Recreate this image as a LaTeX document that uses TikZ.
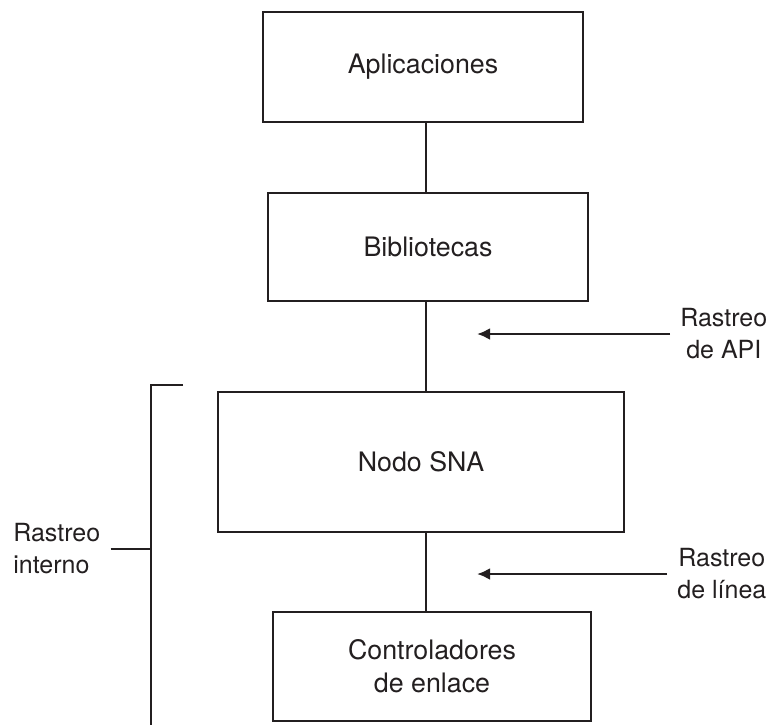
\documentclass[tikz,border=0pt]{standalone}
\usepackage{fontspec}
\setmainfont{TeX Gyre Heros}
\usepackage{tikz}
\usetikzlibrary{positioning,arrows.meta}

\definecolor{ink}{RGB}{35,31,32}

\begin{document}
\begin{tikzpicture}[
	x=0.5pt, y=-0.5pt,
	layer/.style={rectangle, draw=ink, line width=1.4pt, inner sep=0pt,
		text centered, text=ink, align=center,
		font=\fontsize{13.4}{16.5}\selectfont},
	note/.style={inner xsep=5pt, inner ysep=0pt, text=ink,
		font=\fontsize{12.5}{16}\selectfont},
	link/.style={draw=ink, line width=1.4pt},
	trace/.style={draw=ink, line width=1.4pt, -{Latex[length=6.5pt,width=6pt]}}
	]
	\useasboundingbox (0,0) rectangle (772,725);

	% protocol layers
	\node (apl) [layer, minimum width=160pt, minimum height=55pt] at (423,67) {Aplicaciones};
	\node (bib) [layer, minimum width=160pt, minimum height=54pt] at (428,247) {Bibliotecas};
	\node (sna) [layer, minimum width=203pt, minimum height=70pt] at (421,462) {Nodo SNA};
	\node (ctl) [layer, minimum width=159pt, minimum height=54.5pt] at (432,666.5) {Controladores\\de enlace};

	\coordinate (axis) at (426,0);
	\draw[link] (apl.south -| axis) -- (bib.north -| axis);
	\draw[link] (bib.south -| axis) -- (sna.north -| axis);
	\draw[link] (sna.south -| axis) -- (ctl.north -| axis);

	% trace points
	\node (api) [note, align=center, anchor=west] at (670,334) {Rastreo\\de API};
	\coordinate (apitip) at (477,334);
	\draw[trace] (api.west) -- (apitip);

	\node (lin) [note, align=center, anchor=west] at (667,574) {Rastreo\\de línea};
	\coordinate (lintip) at (477,574);
	\draw[trace] (lin.west) -- (lintip);

	% internal trace bracket
	\coordinate (brtop) at (151,385);
	\coordinate (brbot) at (151,725);
	\draw[link] (183,385) -- (brtop) -- (brbot);
	\node (int) [note, align=left, anchor=west] at (3,549) {Rastreo\\interno};
	\draw[link] (int.east) -- (int.east -| brtop);
\end{tikzpicture}
\end{document}
